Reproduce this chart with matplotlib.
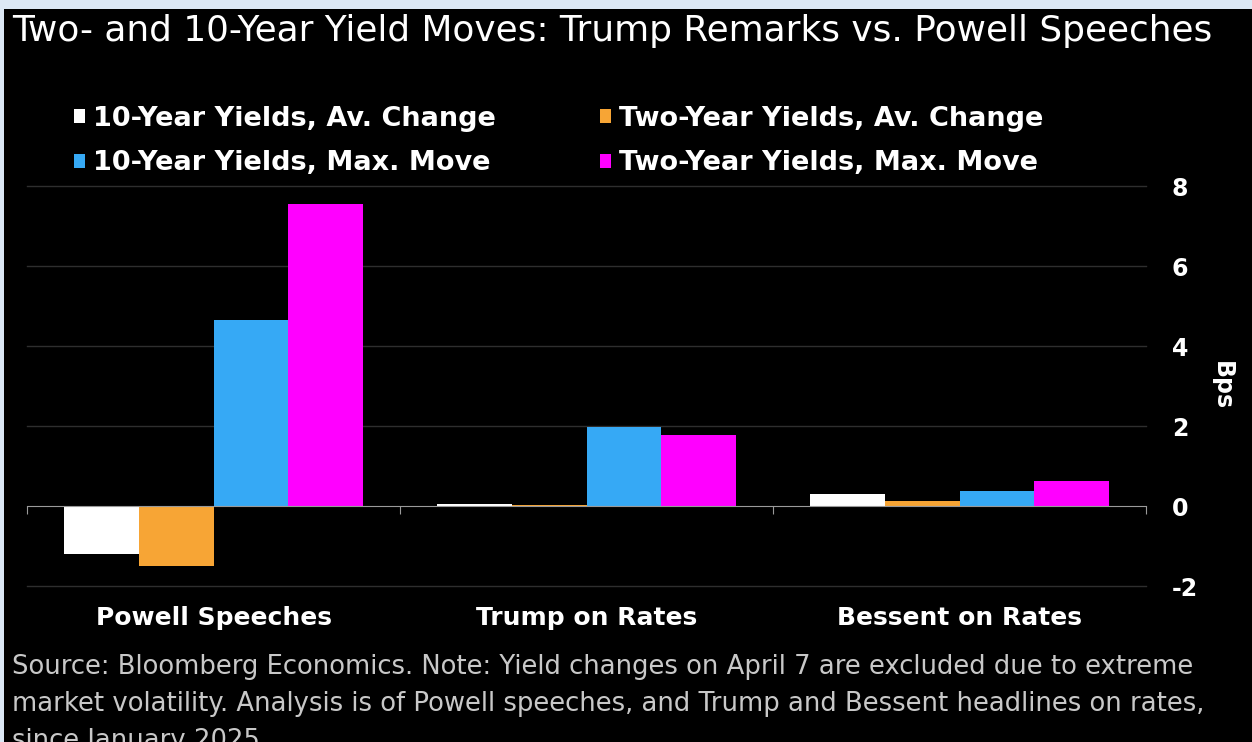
import matplotlib
matplotlib.use("Agg")
import matplotlib.pyplot as plt
from matplotlib.patches import Rectangle

# data (basis points)
categories = ["Powell Speeches", "Trump on Rates", "Bessent on Rates"]
series_names = ["10-Year Yields, Av. Change", "Two-Year Yields, Av. Change",
                "10-Year Yields, Max. Move", "Two-Year Yields, Max. Move"]
ten_year_avg = [-1.21, 0.05, 0.3]
two_year_avg = [-1.49, 0.02, 0.12]
ten_year_max = [4.65, 1.98, 0.37]
two_year_max = [7.56, 1.78, 0.62]
series_colors = ["#ffffff", "#f7a535", "#36a9f5", "#ff00ff"]
y_ticks = [-2, 0, 2, 4, 6, 8]

title = "Two- and 10-Year Yield Moves: Trump Remarks vs. Powell Speeches"
note = ("Source: Bloomberg Economics. Note: Yield changes on April 7 are excluded due to extreme\n"
        "market volatility. Analysis is of Powell speeches, and Trump and Bessent headlines on rates,\n"
        "since January 2025")

plt.rcParams["font.family"] = ["DejaVu Sans"]

W, H = 1252, 742
fig = plt.figure(figsize=(W / 100, H / 100), dpi=100, facecolor="#dce8f5")

# black card behind everything
fig.patches.append(Rectangle((4 / W, 0), 1, (H - 9) / H, transform=fig.transFigure,
                             facecolor="black", edgecolor="none", zorder=-10))

ax = fig.add_axes([27 / W, (H - 586) / H, (1146 - 27) / W, 400 / H])
ax.set_facecolor("none")

values = [ten_year_avg, two_year_avg, ten_year_max, two_year_max]
group_width = 0.8
bar_w = group_width / len(values)
handles = []
for k, (vals, col, name) in enumerate(zip(values, series_colors, series_names)):
    xs = [i - group_width / 2 + bar_w * (k + 0.5) for i in range(len(categories))]
    handles.append(ax.bar(xs, vals, width=bar_w, color=col, label=name, zorder=3))

ax.set_xlim(-0.5, len(categories) - 0.5)
ax.set_ylim(-2, 8)

# y axis on the right
ax.yaxis.tick_right()
ax.set_yticks(y_ticks)
ax.set_yticklabels([str(t) for t in y_ticks], color="white", fontsize=17, fontweight="bold")
ax.tick_params(axis="y", length=0, pad=18.5)
ax.yaxis.set_label_position("right")
ax.set_ylabel("Bps", color="white", fontsize=17, fontweight="bold", rotation=-90, labelpad=26)
for t in y_ticks:
    if t != 0:
        ax.axhline(t, color="#2e2e2e", linewidth=1, zorder=1, clip_on=False)

# zero line with boundary ticks
for s in ["top", "left", "right"]:
    ax.spines[s].set_visible(False)
ax.spines["bottom"].set_position(("data", 0))
ax.spines["bottom"].set_color("#9a9a9a")
ax.spines["bottom"].set_zorder(4)
ax.set_xticks([b - 0.5 for b in range(len(categories) + 1)])
ax.set_xticklabels([])
ax.tick_params(axis="x", length=6, color="#9a9a9a", direction="out")

for i, c in enumerate(categories):
    ax.text(i, -2.8, c, ha="center", va="center", color="white",
            fontsize=18, fontweight="bold")

# legend: column 1 = 10-year series, column 2 = two-year series
order = [0, 2, 1, 3]
fig.legend([handles[k] for k in order], [series_names[k] for k in order],
           loc="center left", bbox_to_anchor=(50 / W, 1 - 141 / H), ncol=2,
           frameon=False, prop={"weight": "bold", "size": 19.5},
           labelcolor="white", handlelength=0.4, handleheight=0.4,
           handletextpad=0.3, columnspacing=3.85, labelspacing=0.7)

fig.text(12 / W, 1 - 31 / H, title, color="white", fontsize=25.8,
         ha="left", va="center")
fig.text(12 / W, 1 - 654 / H, note, color="#c8c8c8", fontsize=18.6,
         ha="left", va="top", linespacing=1.56)

fig.savefig("out.png", dpi=100, facecolor=fig.get_facecolor())
